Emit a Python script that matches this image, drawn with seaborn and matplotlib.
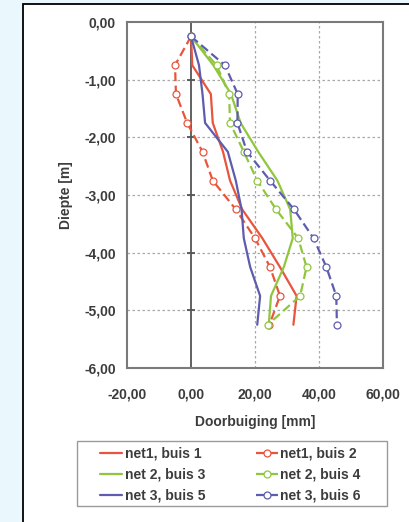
import numpy as np
import pandas as pd
import matplotlib
matplotlib.use("Agg")
import matplotlib.pyplot as plt
from matplotlib.patches import Rectangle
import seaborn as sns

# depths of the measuring points [m]
depth = [-0.25, -0.75, -1.25, -1.75, -2.25, -2.75, -3.25, -3.75, -4.25, -4.75, -5.25]

# deflection per tube [mm]
net1_buis1 = [0, 0.4, 6.2, 6.8, 10.0, 12.2, 16.0, 22.3, 27.8, 33.0, 32.0]
net1_buis2 = [0, -5.0, -4.7, -1.2, 3.6, 6.8, 14.0, 20.0, 24.7, 27.8, 24.5]
net2_buis3 = [0, 7.0, 12.5, 15.5, 21.0, 27.0, 31.0, 31.8, 29.0, 25.0, 24.3]
net2_buis4 = [0, 8.0, 11.9, 12.2, 16.5, 20.7, 26.6, 33.5, 36.1, 34.1, 24.0]
net3_buis5 = [0, 2.5, 3.6, 4.4, 11.5, 14.0, 15.8, 16.5, 18.5, 21.6, 20.7]
net3_buis6 = [0, 10.6, 14.6, 14.5, 17.5, 24.7, 32.2, 38.3, 42.3, 45.4, 45.6]

labels = ["net1, buis 1", "net1, buis 2", "net 2, buis 3",
          "net 2, buis 4", "net 3, buis 5", "net 3, buis 6"]
series = [net1_buis1, net1_buis2, net2_buis3, net2_buis4, net3_buis5, net3_buis6]
colors = ["#e8553c", "#e8553c", "#90c63e", "#90c63e", "#5d5cae", "#5d5cae"]
dashed = [False, True, False, True, False, True]

x_ticks = [-20, 0, 20, 40, 60]
y_ticks = [0, -1, -2, -3, -4, -5, -6]

sns.set_theme(style="white")
plt.rcParams['font.family'] = ['Liberation Sans', 'DejaVu Sans']
text_col = "#3c3c3c"

fig = plt.figure(figsize=(4.1, 5.22), dpi=100)
fig.patch.set_facecolor("#eaf7fd")
# white panel with black border
fig.patches.append(Rectangle((23 / 410, -0.1), 1.0, 1 - 4 / 522 + 0.1,
                             transform=fig.transFigure, facecolor="white",
                             edgecolor="black", linewidth=1.3, zorder=-5))

ax = fig.add_axes([127 / 410, 1 - 368 / 522, 256 / 410, 346 / 522])
ax.set_facecolor("white")

for vals, lab, col, dsh in zip(series, labels, colors, dashed):
    df = pd.DataFrame({"Doorbuiging": vals, "Diepte": depth})
    if dsh:
        sns.lineplot(data=df, x="Doorbuiging", y="Diepte", sort=False, estimator=None,
                     ax=ax, color=col, linewidth=1.6, linestyle=(0, (4, 2)),
                     marker="o", markersize=5, markerfacecolor="white",
                     mec=col, markeredgewidth=0.9, label=lab, zorder=3)
    else:
        sns.lineplot(data=df, x="Doorbuiging", y="Diepte", sort=False, estimator=None,
                     ax=ax, color=col, linewidth=1.6, label=lab, zorder=3)

ax.set_xlim(-20, 60)
ax.set_ylim(-6, 0)
ax.set_xticks(x_ticks)
ax.set_yticks(y_ticks)
ax.set_xticklabels([f"{v:.2f}".replace(".", ",") for v in x_ticks])
ax.set_yticklabels([f"{v:.2f}".replace(".", ",") if v != 0 else "0,00" for v in y_ticks])
ax.tick_params(axis="both", length=0, labelsize=10, colors=text_col)
ax.tick_params(axis="x", pad=14)
ax.tick_params(axis="y", pad=8)
for lbl in ax.get_xticklabels() + ax.get_yticklabels():
    lbl.set_fontweight("bold")

# dotted grid
for v in x_ticks[1:-1]:
    if v != 0:
        ax.axvline(v, color="#a8a8a8", linewidth=0.9, linestyle=(0, (2, 2)), zorder=1)
for v in y_ticks[1:-1]:
    ax.axhline(v, color="#a8a8a8", linewidth=0.9, linestyle=(0, (2, 2)), zorder=1)

# vertical axis through zero with small cross ticks
ax.axvline(0, color="#555555", linewidth=1.3, zorder=2)
ax.scatter(np.zeros(len(y_ticks)), y_ticks, marker="_", s=40, color="#555555",
           linewidths=1.3, zorder=2, clip_on=False)

for s in ax.spines.values():
    s.set_color("#7a7a7a")
    s.set_linewidth(1.5)
    s.set_visible(True)

ax.set_xlabel("Doorbuiging [mm]", fontsize=10, fontweight="bold", color=text_col, labelpad=10)
ax.set_ylabel("Diepte [m]", fontsize=10, fontweight="bold", color=text_col, labelpad=8)

# legend: entries without frame, box drawn separately
handles, labs = ax.get_legend_handles_labels()
ax.get_legend().remove()
order = [0, 2, 4, 1, 3, 5]
leg = fig.legend([handles[i] for i in order], [labs[i] for i in order],
                 loc="upper left", bbox_to_anchor=(100 / 410, 1 - 447 / 522),
                 ncol=2, fontsize=10, frameon=False,
                 handlelength=1.6, handletextpad=0.2, labelspacing=0.5,
                 borderpad=0, borderaxespad=0, columnspacing=3.6)
for t in leg.get_texts():
    t.set_fontweight("bold")
    t.set_color(text_col)
fig.patches.append(Rectangle((77 / 410, 1 - 506 / 522), 310 / 410, 65 / 522,
                             transform=fig.transFigure, facecolor="none",
                             edgecolor="#9a9a9a", linewidth=1.0, zorder=1))

plt.savefig("out.png", dpi=100, facecolor=fig.get_facecolor())
plt.close()
